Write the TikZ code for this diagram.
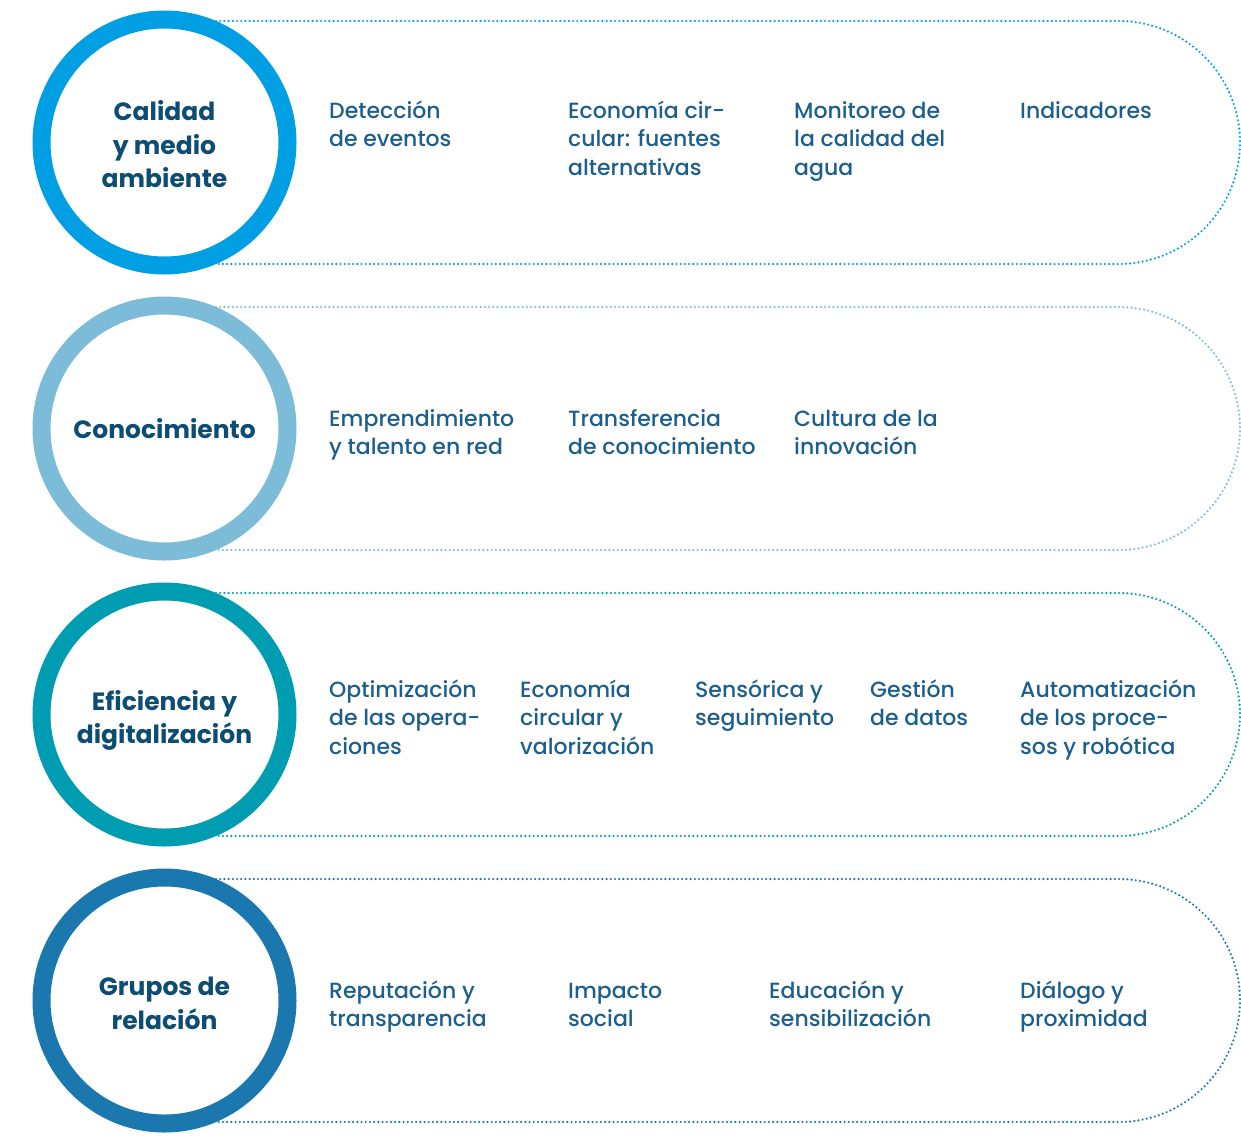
\documentclass[tikz,border=0pt]{standalone}
\usepackage{fontspec}
\setmainfont{Poppins}[UprightFont={* Medium}, BoldFont={* Bold}]
\definecolor{ringA}{HTML}{009FE3}
\definecolor{ringB}{HTML}{7DBCD8}
\definecolor{ringC}{HTML}{009DB2}
\definecolor{ringD}{HTML}{1B78AE}
\definecolor{bodytxt}{HTML}{1D5F8C}
\definecolor{headtxt}{HTML}{0D4D73}
\newcommand\lineTop{\rule{0pt}{20pt}}
\tikzset{
  ring/.style={circle, draw=#1, line width=18pt, fill=white, minimum size=246pt,
    inner sep=0pt},
  heading/.style={inner sep=0pt, align=center, text=headtxt,
    font=\fontsize{25}{33.5}\selectfont\bfseries},
  pill/.style={draw=#1, line width=2.4pt, line cap=round, dash pattern=on 0pt off 4.2pt},
  topic/.style={anchor=north west, inner sep=0pt, align=left, text=bodytxt,
    font=\fontsize{22}{28.5}\selectfont}
}
\begin{document}
\begin{tikzpicture}[x=1pt,y=-1pt]
\useasboundingbox (0,0) rectangle (1241,1135);

% dotted rounded bands behind each circle
\foreach \cy/\col in {142.5/ringA,428.5/ringB,714.5/ringC,1000.5/ringD}{
  \draw[pill=\col] (216,\cy-121.5) -- (1118.5,\cy-121.5)
    arc[start angle=-90, end angle=90, radius=121.5] -- (216,\cy+121.5);
}

% topic circles and their headings
\node[ring=ringA] (c1) at (164.5,142.5) {};
\node[ring=ringB] (c2) at (164.5,428.5) {};
\node[ring=ringC] (c3) at (164.5,714.5) {};
\node[ring=ringD] (c4) at (164.5,1000.5) {};
\node[heading] (h1) at (164.5,144.5) {Calidad\\y medio\\ambiente};
\node[heading] (h2) at (164.5,428.5) {Conocimiento};
\node[heading] (h3) at (164.5,720.5) {Eficiencia y\\digitalización};
\node[heading] (h4) at (164.5,1003.5) {Grupos de\\relación};

% row 1
\node[topic] (t11) at (329,98) {\lineTop Detección\\de eventos};
\node[topic] (t12) at (568,98) {\lineTop Economía cir-\\cular: fuentes\\alternativas};
\node[topic] (t13) at (794,98) {\lineTop Monitoreo de\\la calidad del\\agua};
\node[topic] (t14) at (1020,98) {\lineTop Indicadores};

% row 2
\node[topic] (t21) at (329,406) {\lineTop Emprendimiento\\y talento en red};
\node[topic] (t22) at (568,406) {\lineTop Transferencia\\de conocimiento};
\node[topic] (t23) at (794,406) {\lineTop Cultura de la\\innovación};

% row 3
\node[topic] (t31) at (329,677) {\lineTop Optimización\\de las opera-\\ciones};
\node[topic] (t32) at (520,677) {\lineTop Economía\\circular y\\valorización};
\node[topic] (t33) at (695,677) {\lineTop Sensórica y\\seguimiento};
\node[topic] (t34) at (870,677) {\lineTop Gestión\\de datos};
\node[topic] (t35) at (1020,677) {\lineTop Automatización\\de los proce-\\sos y robótica};

% row 4
\node[topic] (t41) at (329,978) {\lineTop Reputación y\\transparencia};
\node[topic] (t42) at (568,978) {\lineTop Impacto\\social};
\node[topic] (t43) at (769,978) {\lineTop Educación y\\sensibilización};
\node[topic] (t44) at (1020,978) {\lineTop Diálogo y\\proximidad};
\end{tikzpicture}
\end{document}
